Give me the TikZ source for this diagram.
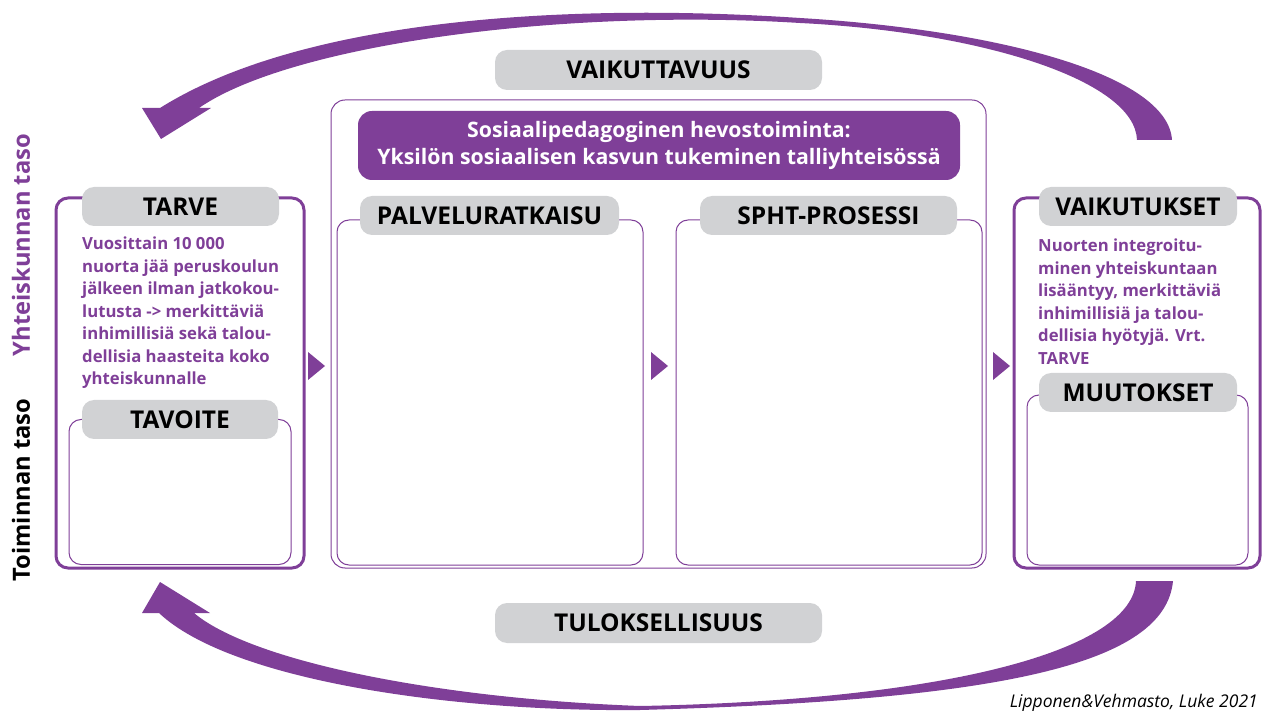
\documentclass[tikz,border=0pt]{standalone}
\usepackage{fontspec}
\setmainfont{Open Sans}
\definecolor{vio}{HTML}{7F3F98}
\definecolor{lgray}{HTML}{D1D2D4}
\tikzset{
  outerbox/.style={draw=vio, line width=3pt, rounded corners=12pt, inner sep=0pt},
  innerbox/.style={draw=vio, line width=1pt, rounded corners=12pt, inner sep=0pt},
  midbox/.style={draw=vio, line width=1pt, rounded corners=14pt, inner sep=0pt},
  tag/.style={fill=lgray, rounded corners=12pt, inner sep=0pt, text=black, font=\bfseries\fontsize{24.5}{28}\selectfont},
  bodytext/.style={text=vio, align=left, inner sep=0pt, anchor=north west, font=\bfseries\fontsize{16.7}{22.5}\selectfont},
  header/.style={fill=vio, text=white, rounded corners=14pt, inner sep=0pt, align=center, font=\bfseries\fontsize{21.3}{27}\selectfont},
  sidelabel/.style={rotate=90, inner sep=0pt, font=\bfseries\fontsize{23.7}{28}\selectfont},
  bigarrow/.style={fill=vio},
  tri/.style={fill=vio}
}
\begin{document}
\begin{tikzpicture}[x=1pt,y=-1pt]
\useasboundingbox (0,0) rectangle (1262,711);
% big curved arrows
\fill[bigarrow] (1137,140) -- (1172,140) .. controls (1168,75) and (1000,30) .. (800,18)
  .. controls (560,2) and (300,20) .. (160,108) -- (142,108) -- (161,139) -- (211,108) -- (199,108)
  .. controls (290,45) and (560,8) .. (800,23) .. controls (980,32) and (1135,80) .. (1137,140) -- cycle;
\fill[bigarrow] (1136,581) -- (1173,581) .. controls (1165,665) and (1000,700) .. (640,710)
  .. controls (450,712) and (230,680) .. (159,613) -- (142,613) -- (160,582) -- (210,613) -- (194,613)
  .. controls (250,660) and (430,698) .. (640,706) .. controls (950,700) and (1133,650) .. (1136,581) -- cycle;
% boxes
\node[outerbox, minimum width=248, minimum height=370] (L) at (180,383) {};
\node[innerbox, minimum width=222, minimum height=145] (Lin) at (180,492) {};
\node[midbox, minimum width=655, minimum height=468] (M) at (658.5,334) {};
\node[innerbox, minimum width=306, minimum height=345] (P) at (490,392.5) {};
\node[innerbox, minimum width=306, minimum height=345] (S) at (829,392.5) {};
\node[outerbox, minimum width=246, minimum height=370] (R) at (1137,383) {};
\node[innerbox, minimum width=221, minimum height=170] (Rin) at (1137.5,480) {};
% tags
\node[tag, minimum width=197, minimum height=39] (tarve) at (180.5,206.5) {TARVE};
\node[tag, minimum width=196, minimum height=39] (tavoite) at (180,419.5) {TAVOITE};
\node[tag, minimum width=259, minimum height=39] (palvelu) at (489.5,215.5) {PALVELURATKAISU};
\node[tag, minimum width=257, minimum height=39] (spht) at (828.5,215.5) {SPHT-PROSESSI};
\node[tag, minimum width=198, minimum height=39] (vaikutukset) at (1138,206.5) {VAIKUTUKSET};
\node[tag, minimum width=198, minimum height=39] (muutokset) at (1138,392.5) {MUUTOKSET};
\node[tag, minimum width=327, minimum height=40] (vaikuttavuus) at (658.5,70) {VAIKUTTAVUUS};
\node[tag, minimum width=327, minimum height=40] (tuloksellisuus) at (658.5,623) {TULOKSELLISUUS};
\node[header, minimum width=602, minimum height=69] (head) at (659,145.5)
  {Sosiaalipedagoginen hevostoiminta:\\Yksilön sosiaalisen kasvun tukeminen talliyhteisössä};
% body texts
\node[bodytext] (tarvetext) at (82,237) {Vuosittain 10 000\\nuorta jää peruskoulun\\jälkeen ilman jatkokou-\\lutusta -> merkittäviä\\inhimillisiä sekä talou-\\dellisia haasteita koko\\yhteiskunnalle};
\node[bodytext] (vaiktext) at (1038,239) {Nuorten integroitu-\\minen yhteiskuntaan\\lisääntyy, merkittäviä\\inhimillisiä ja talou-\\dellisia hyötyjä. Vrt.\\TARVE};
% small triangles between boxes
\fill[tri] (308,352) -- (325,366) -- (308,380) -- cycle;
\fill[tri] (651,352) -- (668,366) -- (651,380) -- cycle;
\fill[tri] (993,352) -- (1010,366) -- (993,380) -- cycle;
% side labels
\node[sidelabel, text=vio] (yht) at (21,245) {Yhteiskunnan taso};
\node[sidelabel, text=black] (toim) at (21,490) {Toiminnan taso};
% citation
\node[inner sep=0pt, anchor=base east, font=\itshape\fontsize{17.5}{20}\selectfont] (cite) at (1258,707) {Lipponen\&Vehmasto, Luke 2021};
\end{tikzpicture}
\end{document}
